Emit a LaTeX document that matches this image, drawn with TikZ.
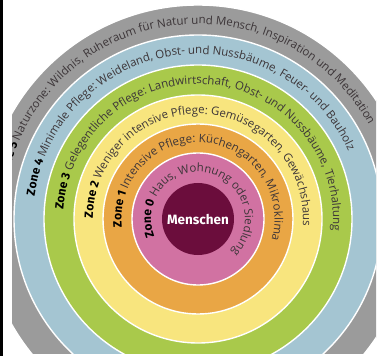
\documentclass[tikz,border=0pt]{standalone}
\usepackage{fontspec}
\setmainfont{Open Sans}
\newfontfamily\zonefont{Fira Sans}
\usetikzlibrary{decorations.text}

\definecolor{kern}{HTML}{6B0D3C}
\definecolor{rosa}{HTML}{D172A2}
\definecolor{orange}{HTML}{E9A645}
\definecolor{gelb}{HTML}{F8E57E}
\definecolor{gruen}{HTML}{A9C94B}
\definecolor{blau}{HTML}{A4C5D2}
\definecolor{grau}{HTML}{9B9B9B}
\definecolor{schrift}{HTML}{3C3538}

\newcommand\zonetxt{\zonefont\bfseries\fontsize{12}{14}\selectfont\color{black}}
\newcommand\desctxt{\normalfont\fontsize{11.5}{13}\selectfont\color{schrift}}

\tikzset{
    ring/.style={fill=#1, draw=white, line width=1.4pt},
    ringtext/.style={decorate, decoration={text along path, text align=left}}
}

\begin{document}
\begin{tikzpicture}[x=1pt, y=1pt]
        \useasboundingbox (0,0) rectangle (382,356);
        \fill [black] (0,0) rectangle (3,356);
        \begin{scope}
        \clip (12,3) rectangle (376,356);
        \coordinate (c) at (198,137);
        % Ringe von aussen nach innen
        \filldraw [ring=grau] (c) circle [radius=214];
        \filldraw [ring=blau] (c) circle [radius=184];
        \filldraw [ring=gruen] (c) circle [radius=154];
        \filldraw [ring=gelb] (c) circle [radius=124];
        \filldraw [ring=orange] (c) circle [radius=95];
        \filldraw [ring=rosa] (c) circle [radius=66];
        \fill [kern] (c) circle [radius=36];
        \node [font=\zonefont\bfseries\fontsize{13.5}{15}\selectfont, text=white] (menschen) at (c) {Menschen};
        % Beschriftung entlang der Ringe
        \path [ringtext, decoration={text={|\zonetxt|Zone 0 |\desctxt|Haus, Wohnung oder Siedlung}}]
            (c) ++(202:47) arc [start angle=202, end angle=-90, radius=47];
        \path [ringtext, decoration={text={|\zonetxt|Zone 1 |\desctxt|Intensive Pflege: Küchengarten, Mikroklima}}]
            (c) ++(186:76.5) arc [start angle=186, end angle=-70, radius=76.5];
        \path [ringtext, decoration={text={|\zonetxt|Zone 2 |\desctxt|Weniger intensive Pflege: Gemüsegarten, Gewächshaus}}]
            (c) ++(179.5:105) arc [start angle=179.5, end angle=-70, radius=105];
        \path [ringtext, decoration={text={|\zonetxt|Zone 3 |\desctxt|Gelegentliche Pflege: Landwirtschaft, Obst- und Nussbäume, Tierhaltung}}]
            (c) ++(176:135) arc [start angle=176, end angle=-60, radius=135];
        \path [ringtext, decoration={text={|\zonetxt|Zone 4 |\desctxt|Minimale Pflege: Weideland, Obst- und Nussbäume, Feuer- und Bauholz}}]
            (c) ++(172:165) arc [start angle=172, end angle=-40, radius=165];
        \path [ringtext, decoration={text={|\zonetxt|Zone 5 |\desctxt|Naturzone: Wildnis, Ruheraum für Natur und Mensch, Inspiration und Meditation}}]
            (c) ++(168:195) arc [start angle=168, end angle=-20, radius=195];
        \end{scope}
\end{tikzpicture}
\end{document}
